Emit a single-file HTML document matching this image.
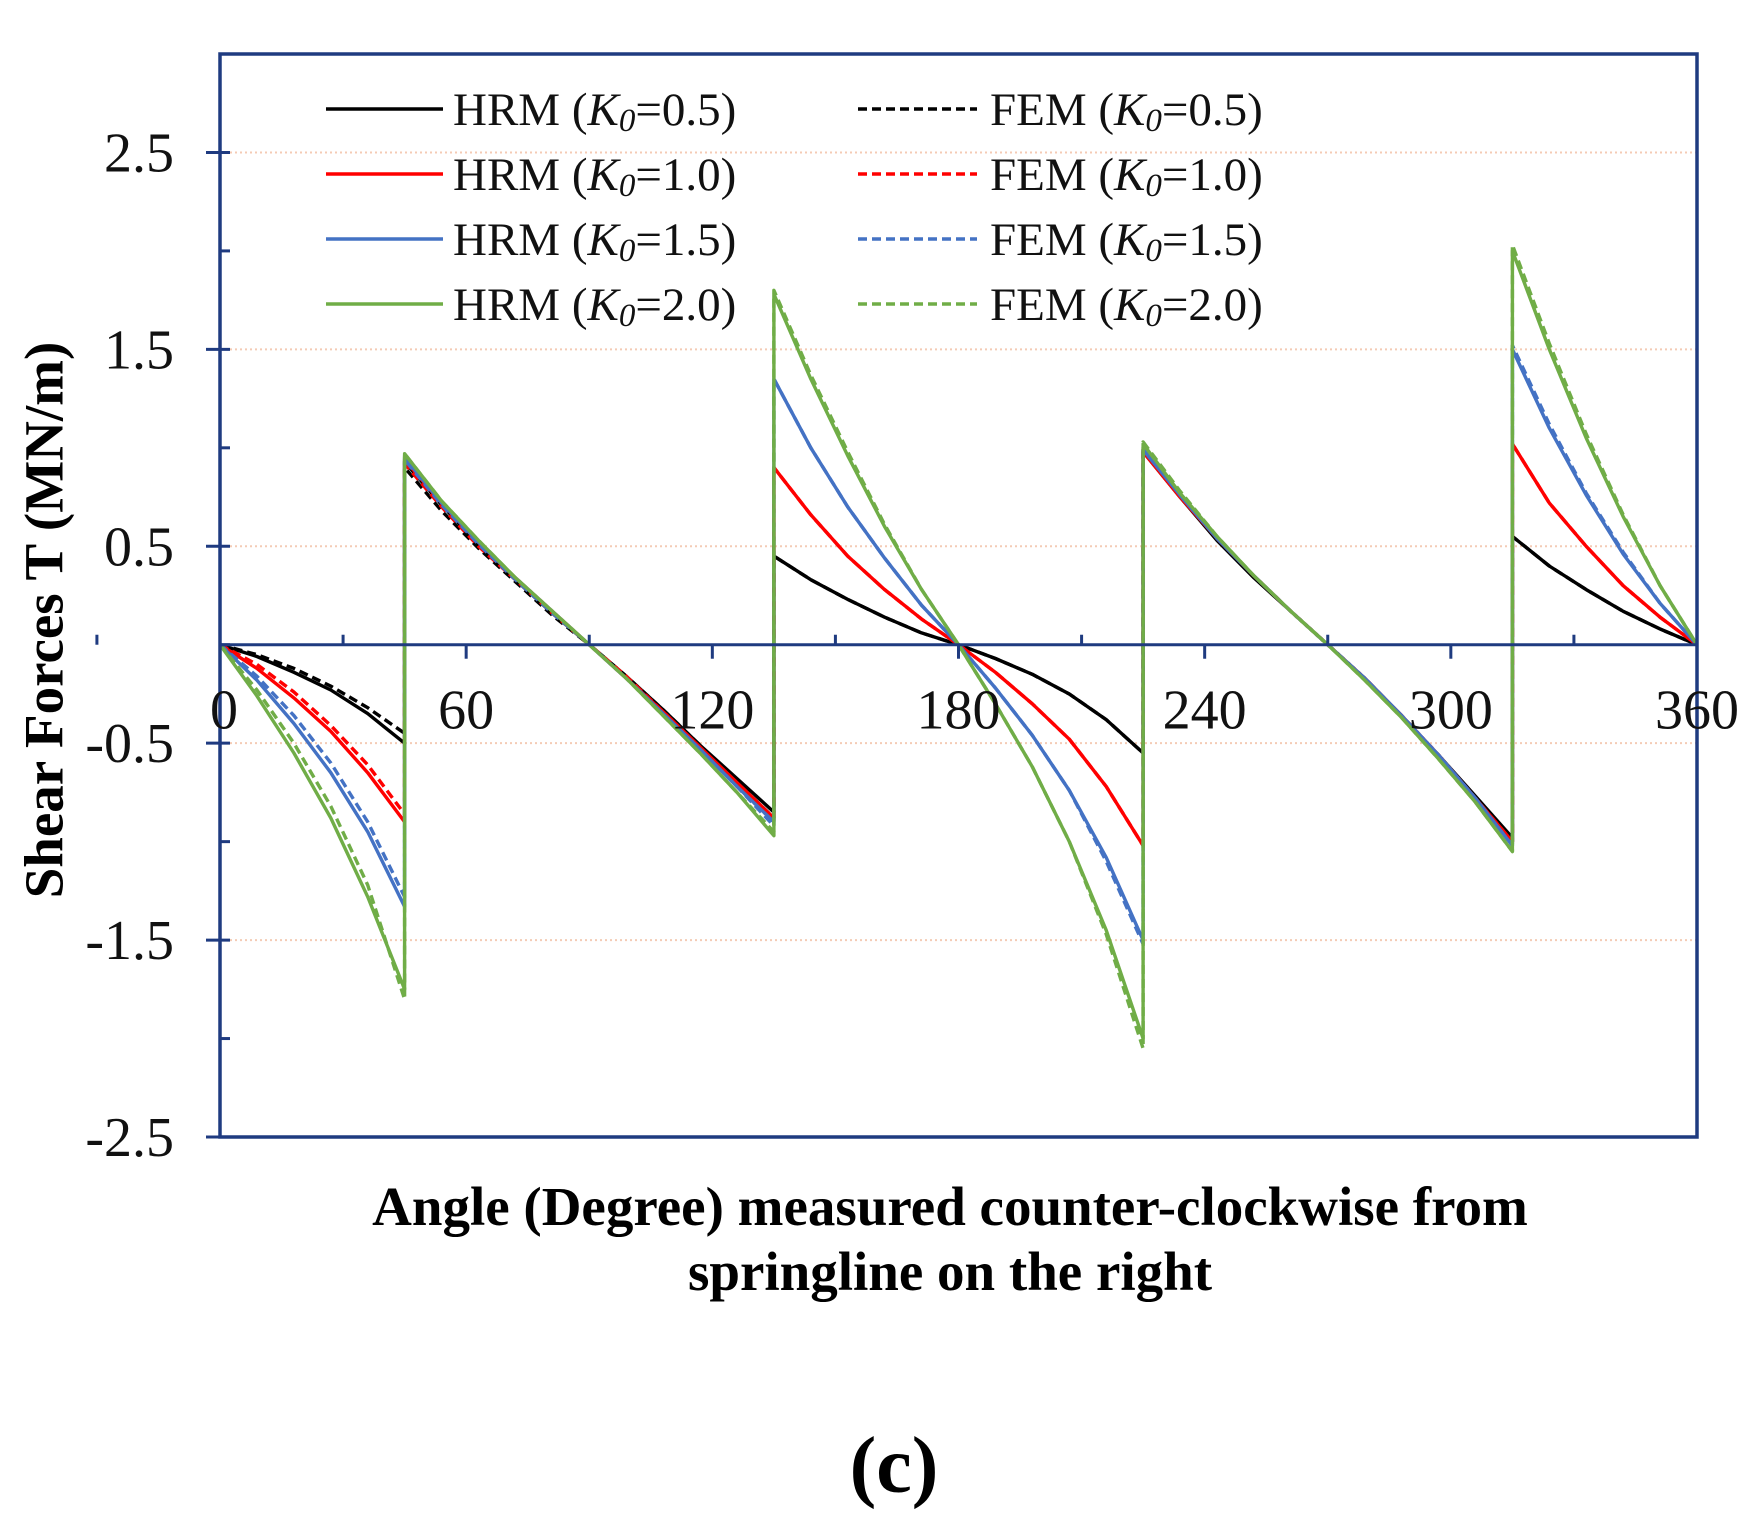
<!DOCTYPE html>
<html><head><meta charset="utf-8"><style>
html,body{margin:0;padding:0;background:#fff;}
svg{display:block;font-family:"Liberation Serif",serif;}
</style></head><body>
<svg id="chart" width="1752" height="1533" viewBox="0 0 1752 1533">
<rect width="1752" height="1533" fill="#fff"/>
<g id="grid"></g>
<g id="series"></g>
<g id="axes"></g>
<g id="legend"></g>
<text x="50" y="620" transform="rotate(-90 50 620)" text-anchor="middle" dominant-baseline="middle" font-weight="bold" font-size="55">Shear Forces T (MN/m)</text>
<text x="950" y="1225" text-anchor="middle" font-weight="bold" font-size="55">Angle (Degree) measured counter-clockwise from</text>
<text x="950" y="1290" text-anchor="middle" font-weight="bold" font-size="55">springline on the right</text>
<text x="894" y="1492" text-anchor="middle" font-weight="bold" font-size="80">(c)</text>
</svg>
<script>
const angles = [0,9,18,27,36,45, 45,54,63,72,81,90,99,108,117,126,135, 135,144,153,162,171,180,189,198,207,216,225, 225,234,243,252,261,270,279,288,297,306,315, 315,324,333,342,351,360];
const hrm05 = [0,-0.06,-0.14,-0.23,-0.35,-0.5, 0.93,0.71,0.51,0.33,0.16,0,-0.16,-0.33,-0.51,-0.68,-0.85, 0.45,0.33,0.23,0.14,0.06,0,-0.07,-0.15,-0.25,-0.38,-0.55, 0.98,0.75,0.53,0.34,0.17,0,-0.17,-0.36,-0.56,-0.77,-0.98, 0.55,0.4,0.28,0.17,0.08,0];
const hrm10 = [0,-0.12,-0.27,-0.44,-0.65,-0.9, 0.94,0.72,0.52,0.34,0.17,0,-0.17,-0.34,-0.52,-0.7,-0.88, 0.9,0.66,0.45,0.28,0.13,0,-0.14,-0.3,-0.48,-0.72,-1.02, 0.98,0.75,0.54,0.35,0.17,0,-0.17,-0.36,-0.56,-0.78,-1.0, 1.02,0.72,0.5,0.3,0.14,0];
const hrm15 = [0,-0.18,-0.4,-0.65,-0.95,-1.33, 0.95,0.72,0.52,0.34,0.17,0,-0.17,-0.35,-0.53,-0.72,-0.9, 1.35,1.0,0.7,0.44,0.2,0,-0.22,-0.46,-0.74,-1.08,-1.5, 0.99,0.76,0.54,0.35,0.17,0,-0.17,-0.36,-0.56,-0.78,-1.02, 1.5,1.1,0.76,0.46,0.21,0];
const hrm20 = [0,-0.26,-0.55,-0.88,-1.28,-1.75, 0.97,0.73,0.53,0.34,0.17,0,-0.17,-0.36,-0.55,-0.75,-0.97, 1.78,1.35,0.96,0.6,0.28,0,-0.3,-0.62,-1.0,-1.45,-2.0, 1.02,0.77,0.55,0.35,0.17,0,-0.18,-0.37,-0.58,-0.8,-1.05, 2.0,1.5,1.05,0.65,0.3,0];
const fem05 = [0,-0.05,-0.12,-0.21,-0.32,-0.45, 0.9,0.68,0.49,0.32,0.15,0,-0.16,-0.33,-0.51,-0.7,-0.88, 0.45,0.33,0.23,0.14,0.06,0,-0.07,-0.15,-0.25,-0.38,-0.55, 1.0,0.76,0.54,0.35,0.17,0,-0.17,-0.36,-0.56,-0.78,-1.0, 0.55,0.4,0.28,0.17,0.08,0];
const fem10 = [0,-0.1,-0.24,-0.41,-0.61,-0.86, 0.92,0.7,0.5,0.33,0.16,0,-0.16,-0.34,-0.52,-0.72,-0.9, 0.9,0.66,0.45,0.28,0.13,0,-0.14,-0.3,-0.48,-0.72,-1.02, 1.0,0.76,0.54,0.35,0.17,0,-0.17,-0.36,-0.56,-0.78,-1.0, 1.02,0.72,0.5,0.3,0.14,0];
const fem15 = [0,-0.16,-0.36,-0.6,-0.9,-1.28, 0.94,0.71,0.51,0.33,0.16,0,-0.17,-0.35,-0.53,-0.72,-0.92, 1.35,1.0,0.7,0.44,0.2,0,-0.22,-0.46,-0.74,-1.1,-1.52, 1.0,0.76,0.54,0.35,0.17,0,-0.17,-0.36,-0.56,-0.78,-1.02, 1.52,1.12,0.77,0.47,0.21,0];
const fem20 = [0,-0.23,-0.5,-0.82,-1.22,-1.8, 0.97,0.73,0.53,0.34,0.17,0,-0.17,-0.36,-0.55,-0.75,-0.95, 1.8,1.37,0.98,0.61,0.28,0,-0.3,-0.62,-1.0,-1.47,-2.05, 1.03,0.78,0.55,0.35,0.17,0,-0.18,-0.37,-0.58,-0.8,-1.05, 2.03,1.53,1.07,0.66,0.3,0];
const xTickLabels = ["0","60","120","180","240","300","360"];
const yTickLabels = ["2.5","1.5","0.5","-0.5","-1.5","-2.5"];
const legendLabels = ["0.5","1.0","1.5","2.0"];

const NS="http://www.w3.org/2000/svg";
const L=220,R=1697,T=54,B=1137;
function xs(a){return L+a*(R-L)/360;}
function ys(v){return T+(3.0-v)*(B-T)/5.5;}
function mk(tag,attrs,parent){const e=document.createElementNS(NS,tag);for(const k in attrs)e.setAttribute(k,attrs[k]);parent.appendChild(e);return e;}
const axisCol="#1f3b80";
const grid=document.getElementById('grid'),axes=document.getElementById('axes'),ser=document.getElementById('series'),leg=document.getElementById('legend');

yTickLabels.forEach(t=>{const v=parseFloat(t);
  const g=mk('line',{x1:L,x2:R,y1:ys(v),y2:ys(v),stroke:'#f4cbb5','stroke-width':2,'stroke-dasharray':'2,3'},grid);
  
  
  const tk=mk('line',{x1:L-14,x2:L+10,y1:ys(v),y2:ys(v),stroke:axisCol,'stroke-width':3},axes);
  
  
  const tx=mk('text',{x:L-46,y:ys(v)+19,'text-anchor':'end','font-size':56,fill:'#111'},axes);
  tx.textContent=t;
  
  
  const mv=v-0.5;
  if(mv>-2.5){const m=mk('line',{x1:L,x2:L+10,y1:ys(mv),y2:ys(mv),stroke:axisCol,'stroke-width':3},axes);
    
    }
});
const frame=mk('rect',{x:L,y:T,width:R-L,height:B-T,fill:'none',stroke:axisCol,'stroke-width':3.5},axes);


const zl=mk('line',{x1:L,x2:R,y1:ys(0),y2:ys(0),stroke:axisCol,'stroke-width':3},axes);


xTickLabels.forEach(t=>{const a=parseFloat(t);
  if(a>0&&a<360){const tk=mk('line',{x1:xs(a),x2:xs(a),y1:ys(0),y2:ys(0)+14,stroke:axisCol,'stroke-width':3},axes);
    
    }
  const mk2=mk('line',{x1:xs(a-30),x2:xs(a-30),y1:ys(0)-10,y2:ys(0),stroke:axisCol,'stroke-width':3},axes);
  
  
  const tx=mk('text',{x:xs(a)+(a===0?4:0),y:ys(0)+84,'text-anchor':'middle','font-size':56,fill:'#111'},axes);
  tx.textContent=t;
  
  
});

const seriesList=[
 [hrm05,'#000000',false,'hrm-k05-line'],[fem05,'#000000',true,'fem-k05-line'],
 [hrm10,'#ff0000',false,'hrm-k10-line'],[fem10,'#ff0000',true,'fem-k10-line'],
 [hrm15,'#4472c4',false,'hrm-k15-line'],[fem15,'#4472c4',true,'fem-k15-line'],
 [hrm20,'#70ad47',false,'hrm-k20-line'],[fem20,'#70ad47',true,'fem-k20-line']];
seriesList.forEach(s=>{
  let d='';s[0].forEach((v,i)=>{d+=(i?'L':'M')+xs(angles[i]).toFixed(1)+','+ys(v).toFixed(1);});
  const p=mk('path',{d:d,fill:'none',stroke:s[1],'stroke-width':3.4,'stroke-linejoin':'round'},ser);
  if(s[2])p.setAttribute('stroke-dasharray','9,5');
  
  
});

const cols=['#000000','#ff0000','#4472c4','#70ad47'];
legendLabels.forEach((k,i)=>{
  const y=109+i*65;
  [['HRM',326,443,453,false],['FEM',858,977,990,true]].forEach(c=>{
    const ln=mk('line',{x1:c[1],x2:c[2],y1:y,y2:y,stroke:cols[i],'stroke-width':3.5},leg);
    if(c[4])ln.setAttribute('stroke-dasharray','9,5');
    
    
    const tx=mk('text',{x:c[3],y:y+16,'font-size':47,fill:'#111'},leg);
    tx.innerHTML=c[0]+' (<tspan font-style="italic">K</tspan><tspan font-style="italic" font-size="33" dy="6">0</tspan><tspan dy="-6">=</tspan>'+k+')';
    
    
  });
});
</script>
</body></html>
